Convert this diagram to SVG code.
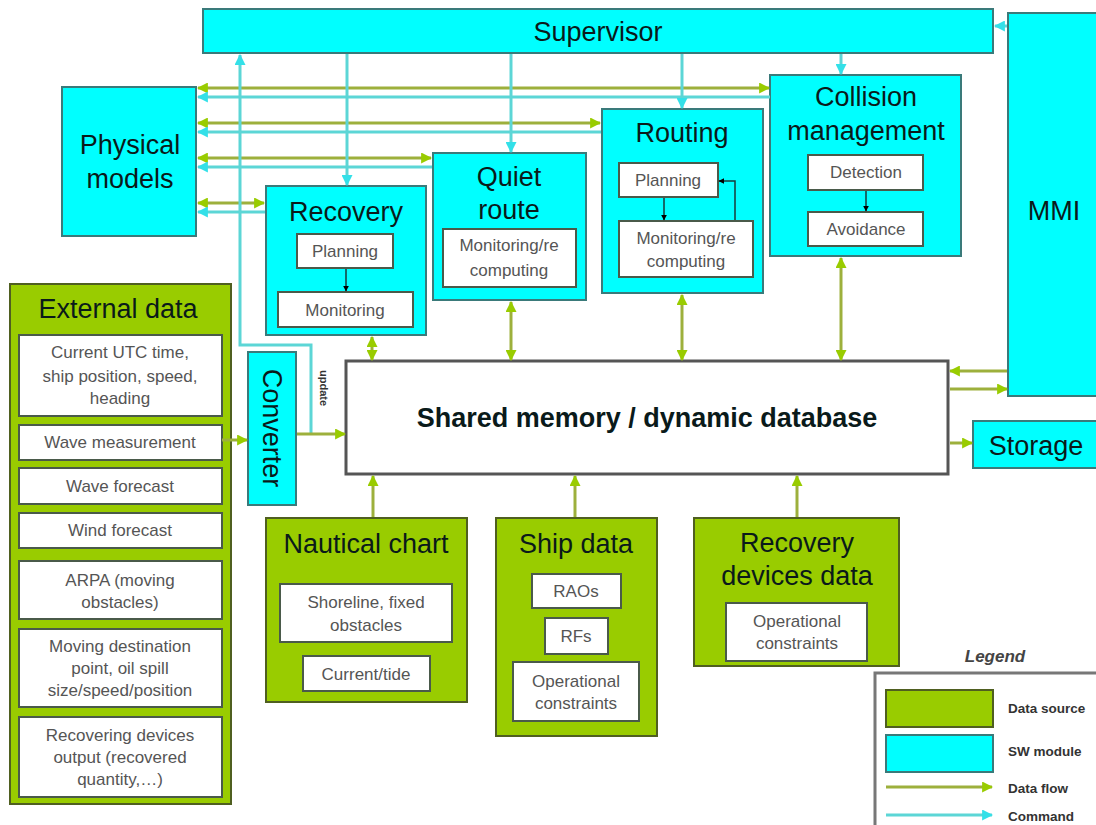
<svg xmlns="http://www.w3.org/2000/svg" width="1096" height="825" viewBox="0 0 1096 825">
<style>
.sw{fill:#00ffff;stroke:#3a7a7a;stroke-width:2}
.ds{fill:#99cc00;stroke:#4f5f20;stroke-width:2}
.in{fill:#ffffff;stroke:#4a5a4a;stroke-width:2}
.t{font-family:"Liberation Sans",Arial,sans-serif;font-size:27px;fill:#0a1a1a;text-anchor:middle}
.s{font-family:"Liberation Sans",Arial,sans-serif;font-size:17px;fill:#555555;text-anchor:middle}
.df{stroke:#9db03c;stroke-width:3;fill:none}
.cm{stroke:#5cd6d6;stroke-width:3;fill:none}
.bk{stroke:#1a3a3a;stroke-width:1.5;fill:none}
.lg{font-family:"Liberation Sans",Arial,sans-serif;font-size:13.5px;font-weight:bold;fill:#333333}
</style>
<defs>
<marker id="ga" viewBox="0 0 10 10" refX="9" refY="5" markerWidth="11" markerHeight="11" markerUnits="userSpaceOnUse" orient="auto-start-reverse"><path d="M0,0 L10,5 L0,10 z" fill="#99cc00"/></marker>
<marker id="ca" viewBox="0 0 10 10" refX="9" refY="5" markerWidth="11" markerHeight="11" markerUnits="userSpaceOnUse" orient="auto-start-reverse"><path d="M0,0 L10,5 L0,10 z" fill="#33e0e8"/></marker>
<marker id="ka" viewBox="0 0 10 10" refX="9" refY="5" markerWidth="6" markerHeight="6" markerUnits="userSpaceOnUse" orient="auto"><path d="M0,0 L10,5 L0,10 z" fill="#000000"/></marker>
</defs>

<g id="supervisor">
  <rect class="sw" x="203" y="9" width="790" height="44"/>
  <text class="t" x="598" y="41">Supervisor</text>
</g>
<g id="mmi">
  <rect class="sw" x="1008" y="13" width="92" height="383"/>
  <text class="t" x="1054" y="220">MMI</text>
</g>
<g id="physical-models">
  <rect class="sw" x="62" y="87" width="134" height="149"/>
  <text class="t" x="130" y="154">Physical</text>
  <text class="t" x="130" y="188">models</text>
</g>
<g id="recovery">
  <rect class="sw" x="266" y="186" width="160" height="149"/>
  <text class="t" x="346" y="221">Recovery</text>
  <rect class="in" x="297" y="234" width="96" height="34"/>
  <text class="s" x="345" y="257">Planning</text>
  <rect class="in" x="278" y="292" width="135" height="35"/>
  <text class="s" x="345" y="316">Monitoring</text>
</g>
<g id="quiet-route">
  <rect class="sw" x="433" y="153" width="153" height="147"/>
  <text class="t" x="509" y="186">Quiet</text>
  <text class="t" x="509" y="219">route</text>
  <rect class="in" x="443" y="229" width="133" height="58"/>
  <text class="s" x="509" y="251">Monitoring/re</text>
  <text class="s" x="509" y="276">computing</text>
</g>
<g id="routing">
  <rect class="sw" x="602" y="109" width="161" height="184"/>
  <text class="t" x="682" y="142">Routing</text>
  <rect class="in" x="619" y="163" width="99" height="34"/>
  <text class="s" x="668" y="186">Planning</text>
  <rect class="in" x="619" y="221" width="134" height="56"/>
  <text class="s" x="686" y="244">Monitoring/re</text>
  <text class="s" x="686" y="267">computing</text>
</g>
<g id="collision-management">
  <rect class="sw" x="770" y="75" width="191" height="181"/>
  <text class="t" x="866" y="106">Collision</text>
  <text class="t" x="866" y="140">management</text>
  <rect class="in" x="808" y="155" width="115" height="35"/>
  <text class="s" x="866" y="178">Detection</text>
  <rect class="in" x="808" y="212" width="115" height="34"/>
  <text class="s" x="866" y="235">Avoidance</text>
</g>
<g id="shared-memory">
  <rect x="346" y="361" width="602" height="113" fill="#ffffff" stroke="#555555" stroke-width="3"/>
  <text class="t" x="647" y="427" font-weight="bold" font-size="26" fill="#222222">Shared memory / dynamic database</text>
</g>
<g id="storage">
  <rect class="sw" x="973" y="421" width="127" height="47"/>
  <text class="t" x="1036" y="455">Storage</text>
</g>
<g id="converter">
  <rect class="sw" x="248" y="352" width="48" height="153"/>
  <text class="t" transform="translate(272,428) rotate(90)" x="0" y="9">Converter</text>
  <text transform="translate(324,388) rotate(90)" x="0" y="4" font-family="Liberation Sans, Arial, sans-serif" font-size="11" font-weight="bold" fill="#333333" text-anchor="middle">update</text>
</g>
<g id="external-data">
  <rect class="ds" x="10" y="284" width="221" height="520"/>
  <text class="t" x="118" y="318">External data</text>
  <rect class="in" x="19" y="335" width="203" height="81"/>
  <text class="s" x="120" y="358">Current UTC time,</text>
  <text class="s" x="120" y="382">ship position, speed,</text>
  <text class="s" x="120" y="404">heading</text>
  <rect class="in" x="19" y="425" width="203" height="35"/>
  <text class="s" x="120" y="448">Wave measurement</text>
  <rect class="in" x="19" y="468" width="203" height="36"/>
  <text class="s" x="120" y="492">Wave forecast</text>
  <rect class="in" x="19" y="513" width="203" height="35"/>
  <text class="s" x="120" y="536">Wind forecast</text>
  <rect class="in" x="19" y="561" width="203" height="58"/>
  <text class="s" x="120" y="586">ARPA (moving</text>
  <text class="s" x="120" y="608">obstacles)</text>
  <rect class="in" x="19" y="629" width="203" height="78"/>
  <text class="s" x="120" y="652">Moving destination</text>
  <text class="s" x="120" y="674">point, oil spill</text>
  <text class="s" x="120" y="696">size/speed/position</text>
  <rect class="in" x="19" y="717" width="203" height="80"/>
  <text class="s" x="120" y="741">Recovering devices</text>
  <text class="s" x="120" y="763">output (recovered</text>
  <text class="s" x="120" y="785">quantity,…)</text>
</g>
<g id="nautical-chart">
  <rect class="ds" x="266" y="518" width="201" height="184"/>
  <text class="t" x="366" y="553">Nautical chart</text>
  <rect class="in" x="280" y="584" width="172" height="58"/>
  <text class="s" x="366" y="608">Shoreline, fixed</text>
  <text class="s" x="366" y="631">obstacles</text>
  <rect class="in" x="303" y="656" width="127" height="35"/>
  <text class="s" x="366" y="680">Current/tide</text>
</g>
<g id="ship-data">
  <rect class="ds" x="496" y="518" width="161" height="218"/>
  <text class="t" x="576" y="553">Ship data</text>
  <rect class="in" x="532" y="574" width="89" height="34"/>
  <text class="s" x="576" y="597">RAOs</text>
  <rect class="in" x="545" y="618" width="63" height="36"/>
  <text class="s" x="576" y="642">RFs</text>
  <rect class="in" x="513" y="662" width="126" height="59"/>
  <text class="s" x="576" y="687">Operational</text>
  <text class="s" x="576" y="709">constraints</text>
</g>
<g id="recovery-devices-data">
  <rect class="ds" x="694" y="518" width="205" height="148"/>
  <text class="t" x="797" y="552">Recovery</text>
  <text class="t" x="797" y="585">devices data</text>
  <rect class="in" x="726" y="603" width="141" height="58"/>
  <text class="s" x="797" y="627">Operational</text>
  <text class="s" x="797" y="649">constraints</text>
</g>
<g id="legend">
  <text x="995" y="662" font-family="Liberation Sans, Arial, sans-serif" font-size="17" font-style="italic" font-weight="bold" fill="#444444" text-anchor="middle">Legend</text>
  <path d="M875,825 L875,673 L1096,673" fill="none" stroke="#777777" stroke-width="3"/>
  <rect class="ds" x="886" y="690" width="107" height="37"/>
  <rect class="sw" x="886" y="735" width="107" height="37"/>
  <line class="df" x1="886" y1="787" x2="992" y2="787" marker-end="url(#ga)"/>
  <line class="cm" x1="886" y1="815" x2="992" y2="815" marker-end="url(#ca)"/>
  <text class="lg" x="1008" y="713">Data source</text>
  <text class="lg" x="1008" y="756">SW module</text>
  <text class="lg" x="1008" y="793">Data flow</text>
  <text class="lg" x="1008" y="821">Command</text>
</g>

<g id="connectors">
  <line class="df" x1="198" y1="88" x2="769" y2="88" marker-start="url(#ga)" marker-end="url(#ga)"/>
  <line class="cm" x1="770" y1="97" x2="198" y2="97" marker-end="url(#ca)"/>
  <line class="df" x1="198" y1="123" x2="600" y2="123" marker-start="url(#ga)" marker-end="url(#ga)"/>
  <line class="cm" x1="601" y1="132" x2="198" y2="132" marker-end="url(#ca)"/>
  <line class="df" x1="198" y1="158" x2="431" y2="158" marker-start="url(#ga)" marker-end="url(#ga)"/>
  <line class="cm" x1="432" y1="167" x2="198" y2="167" marker-end="url(#ca)"/>
  <line class="df" x1="198" y1="203" x2="264" y2="203" marker-start="url(#ga)" marker-end="url(#ga)"/>
  <line class="cm" x1="265" y1="212" x2="198" y2="212" marker-end="url(#ca)"/>
  <line class="cm" x1="347" y1="54" x2="347" y2="185" marker-end="url(#ca)"/>
  <line class="cm" x1="511" y1="54" x2="511" y2="152" marker-end="url(#ca)"/>
  <line class="cm" x1="682" y1="54" x2="682" y2="108" marker-end="url(#ca)"/>
  <line class="cm" x1="841" y1="54" x2="841" y2="74" marker-end="url(#ca)"/>
  <line class="cm" x1="995" y1="26" x2="1007" y2="26" marker-start="url(#ca)"/>
  <path class="cm" d="M311,434 L311,345 L240,345 L240,55" marker-end="url(#ca)"/>
  <line class="df" x1="372" y1="337" x2="372" y2="360" marker-start="url(#ga)" marker-end="url(#ga)"/>
  <line class="df" x1="511" y1="302" x2="511" y2="360" marker-start="url(#ga)" marker-end="url(#ga)"/>
  <line class="df" x1="682" y1="295" x2="682" y2="360" marker-start="url(#ga)" marker-end="url(#ga)"/>
  <line class="df" x1="841" y1="258" x2="841" y2="360" marker-start="url(#ga)" marker-end="url(#ga)"/>
  <line class="df" x1="222" y1="440" x2="247" y2="440" marker-end="url(#ga)"/>
  <line class="df" x1="297" y1="434" x2="345" y2="434" marker-end="url(#ga)"/>
  <line class="df" x1="373" y1="517" x2="373" y2="476" marker-end="url(#ga)"/>
  <line class="df" x1="575" y1="517" x2="575" y2="476" marker-end="url(#ga)"/>
  <line class="df" x1="797" y1="517" x2="797" y2="476" marker-end="url(#ga)"/>
  <line class="df" x1="1007" y1="371" x2="950" y2="371" marker-end="url(#ga)"/>
  <line class="df" x1="950" y1="389" x2="1007" y2="389" marker-end="url(#ga)"/>
  <line class="df" x1="950" y1="443" x2="972" y2="443" marker-end="url(#ga)"/>
  <line class="bk" x1="346" y1="269" x2="346" y2="291" marker-end="url(#ka)"/>
  <line class="bk" x1="664" y1="198" x2="664" y2="220" marker-end="url(#ka)"/>
  <path class="bk" d="M735,220 L735,181 L719,181" marker-end="url(#ka)"/>
  <line class="bk" x1="866" y1="191" x2="866" y2="211" marker-end="url(#ka)"/>
</g>
</svg>
